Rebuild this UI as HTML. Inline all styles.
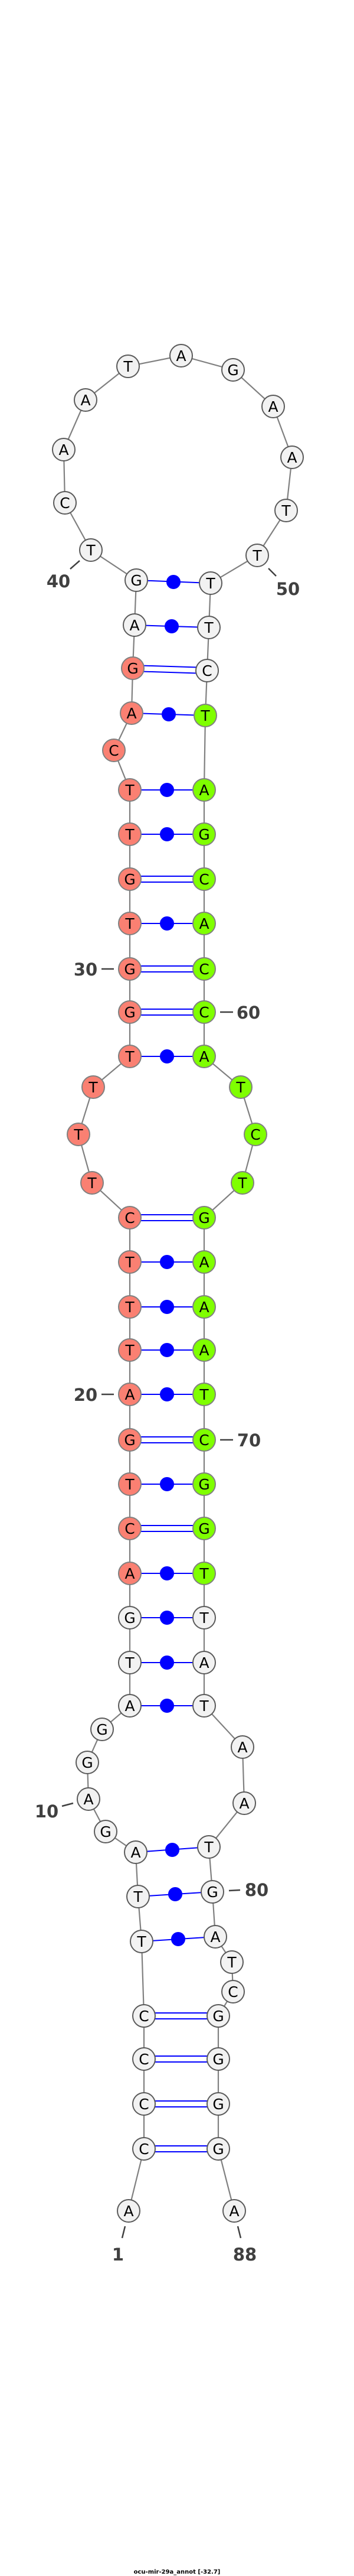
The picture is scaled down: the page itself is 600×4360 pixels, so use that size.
<!DOCTYPE html>
<html><head><meta charset="utf-8"><style>
html,body{margin:0;padding:0;background:#fff;}
svg{display:block;}
.n text{font-family:"DejaVu Sans","Liberation Sans",sans-serif;font-size:25px;text-anchor:middle;fill:#000;}
.lb{font-family:"DejaVu Sans","Liberation Sans",sans-serif;font-size:29px;font-weight:bold;fill:#404040;text-anchor:middle;}
</style></head><body>
<svg width="600" height="4360" viewBox="0 0 600 4360" xmlns="http://www.w3.org/2000/svg">
<polyline fill="none" stroke="#808080" stroke-width="2.2" points="218,3742 244,3637 244,3561 244,3485 244,3412 240,3286 234,3210 230,3135 179,3100 150,3045 148,2983 173,2927 220,2887 220,2814 220,2738 220,2663 220,2587 220,2512 220,2437 220,2360 220,2285 220,2212 220,2136 220,2061 156,2002 133,1920 158,1840 220,1788 220,1713 220,1640 220,1563 220,1488 220,1412 220,1337 193,1270 223,1207 225,1131 228,1058 231,982 154,931 110,851 108,761 145,677 217,620 307,602 395,626 463,688 495,774 485,864 436,940 357,987 354,1062 351,1135 348,1211 346,1337 346,1412 346,1488 346,1563 346,1640 346,1713 346,1788 408,1840 433,1920 411,2002 346,2061 346,2136 346,2212 346,2285 346,2360 346,2437 346,2512 346,2587 346,2663 346,2738 346,2814 346,2887 411,2957 414,3052 354,3126 360,3202 365,3278 393,3321 395,3371 370,3412 370,3485 370,3561 370,3637 397,3742"/>
<g stroke="#0000ff" stroke-width="2" fill="#0000ff">
<!-- single bonds with dots -->
<line x1="240" y1="3286" x2="365" y2="3278"/><circle cx="302" cy="3282" r="11"/>
<line x1="234" y1="3210" x2="360" y2="3202"/><circle cx="297" cy="3206" r="11"/>
<line x1="230" y1="3135" x2="354" y2="3126"/><circle cx="292" cy="3131" r="11"/>
<line x1="220" y1="2887" x2="346" y2="2887"/><circle cx="283" cy="2887" r="11"/>
<line x1="220" y1="2814" x2="346" y2="2814"/><circle cx="283" cy="2814" r="11"/>
<line x1="220" y1="2738" x2="346" y2="2738"/><circle cx="283" cy="2738" r="11"/>
<line x1="220" y1="2663" x2="346" y2="2663"/><circle cx="283" cy="2663" r="11"/>
<line x1="220" y1="2512" x2="346" y2="2512"/><circle cx="283" cy="2512" r="11"/>
<line x1="220" y1="2360" x2="346" y2="2360"/><circle cx="283" cy="2360" r="11"/>
<line x1="220" y1="2285" x2="346" y2="2285"/><circle cx="283" cy="2285" r="11"/>
<line x1="220" y1="2212" x2="346" y2="2212"/><circle cx="283" cy="2212" r="11"/>
<line x1="220" y1="2136" x2="346" y2="2136"/><circle cx="283" cy="2136" r="11"/>
<line x1="220" y1="1788" x2="346" y2="1788"/><circle cx="283" cy="1788" r="11"/>
<line x1="220" y1="1563" x2="346" y2="1563"/><circle cx="283" cy="1563" r="11"/>
<line x1="220" y1="1412" x2="346" y2="1412"/><circle cx="283" cy="1412" r="11"/>
<line x1="220" y1="1337" x2="346" y2="1337"/><circle cx="283" cy="1337" r="11"/>
<line x1="223" y1="1207" x2="348" y2="1211"/><circle cx="286" cy="1209" r="11"/>
<line x1="228" y1="1058" x2="354" y2="1062"/><circle cx="291" cy="1060" r="11"/>
<line x1="231" y1="982" x2="357" y2="987"/><circle cx="294" cy="985" r="11"/>
<!-- double bonds -->
<g fill="none">
<path d="M244,3407H370M244,3417H370"/>
<path d="M244,3480H370M244,3490H370"/>
<path d="M244,3556H370M244,3566H370"/>
<path d="M244,3632H370M244,3642H370"/>
<path d="M220,2582H346M220,2592H346"/>
<path d="M220,2432H346M220,2442H346"/>
<path d="M220,2056H346M220,2066H346"/>
<path d="M220,1708H346M220,1718H346"/>
<path d="M220,1635H346M220,1645H346"/>
<path d="M220,1483H346M220,1493H346"/>
<path d="M225,1126L351,1130M225,1136L351,1140"/>
</g>
</g>
<!-- nodes -->
<g class="n">
<g fill="#f2f2f2" stroke="#5a5a5a" stroke-width="2">
<circle cx="218" cy="3742" r="19"/><circle cx="244" cy="3637" r="19"/><circle cx="244" cy="3561" r="19"/><circle cx="244" cy="3485" r="19"/><circle cx="244" cy="3412" r="19"/><circle cx="240" cy="3286" r="19"/><circle cx="234" cy="3210" r="19"/><circle cx="230" cy="3135" r="19"/><circle cx="179" cy="3100" r="19"/><circle cx="150" cy="3045" r="19"/><circle cx="148" cy="2983" r="19"/><circle cx="173" cy="2927" r="19"/><circle cx="220" cy="2887" r="19"/><circle cx="220" cy="2814" r="19"/><circle cx="220" cy="2738" r="19"/>
<circle cx="228" cy="1058" r="19"/><circle cx="231" cy="982" r="19"/><circle cx="154" cy="931" r="19"/><circle cx="110" cy="851" r="19"/><circle cx="108" cy="761" r="19"/><circle cx="145" cy="677" r="19"/><circle cx="217" cy="620" r="19"/><circle cx="307" cy="602" r="19"/><circle cx="395" cy="626" r="19"/><circle cx="463" cy="688" r="19"/><circle cx="495" cy="774" r="19"/><circle cx="485" cy="864" r="19"/><circle cx="436" cy="940" r="19"/><circle cx="357" cy="987" r="19"/><circle cx="354" cy="1062" r="19"/><circle cx="351" cy="1135" r="19"/>
<circle cx="346" cy="2738" r="19"/><circle cx="346" cy="2814" r="19"/><circle cx="346" cy="2887" r="19"/><circle cx="411" cy="2957" r="19"/><circle cx="414" cy="3052" r="19"/><circle cx="354" cy="3126" r="19"/><circle cx="360" cy="3202" r="19"/><circle cx="365" cy="3278" r="19"/><circle cx="393" cy="3321" r="19"/><circle cx="395" cy="3371" r="19"/><circle cx="370" cy="3412" r="19"/><circle cx="370" cy="3485" r="19"/><circle cx="370" cy="3561" r="19"/><circle cx="370" cy="3637" r="19"/><circle cx="397" cy="3742" r="19"/>
</g>
<g fill="#fa8072" stroke="#808080" stroke-width="2">
<circle cx="220" cy="2663" r="19"/><circle cx="220" cy="2587" r="19"/><circle cx="220" cy="2512" r="19"/><circle cx="220" cy="2437" r="19"/><circle cx="220" cy="2360" r="19"/><circle cx="220" cy="2285" r="19"/><circle cx="220" cy="2212" r="19"/><circle cx="220" cy="2136" r="19"/><circle cx="220" cy="2061" r="19"/><circle cx="156" cy="2002" r="19"/><circle cx="133" cy="1920" r="19"/><circle cx="158" cy="1840" r="19"/><circle cx="220" cy="1788" r="19"/><circle cx="220" cy="1713" r="19"/><circle cx="220" cy="1640" r="19"/><circle cx="220" cy="1563" r="19"/><circle cx="220" cy="1488" r="19"/><circle cx="220" cy="1412" r="19"/><circle cx="220" cy="1337" r="19"/><circle cx="193" cy="1270" r="19"/><circle cx="223" cy="1207" r="19"/><circle cx="225" cy="1131" r="19"/>
</g>
<g fill="#7fff00" stroke="#808080" stroke-width="2">
<circle cx="348" cy="1211" r="19"/><circle cx="346" cy="1337" r="19"/><circle cx="346" cy="1412" r="19"/><circle cx="346" cy="1488" r="19"/><circle cx="346" cy="1563" r="19"/><circle cx="346" cy="1640" r="19"/><circle cx="346" cy="1713" r="19"/><circle cx="346" cy="1788" r="19"/><circle cx="408" cy="1840" r="19"/><circle cx="433" cy="1920" r="19"/><circle cx="411" cy="2002" r="19"/><circle cx="346" cy="2061" r="19"/><circle cx="346" cy="2136" r="19"/><circle cx="346" cy="2212" r="19"/><circle cx="346" cy="2285" r="19"/><circle cx="346" cy="2360" r="19"/><circle cx="346" cy="2437" r="19"/><circle cx="346" cy="2512" r="19"/><circle cx="346" cy="2587" r="19"/><circle cx="346" cy="2663" r="19"/>
</g>
<g transform="translate(0,9)">
<text x="218" y="3742">A</text><text x="244" y="3637">C</text><text x="244" y="3561">C</text><text x="244" y="3485">C</text><text x="244" y="3412">C</text><text x="240" y="3286">T</text><text x="234" y="3210">T</text><text x="230" y="3135">A</text><text x="179" y="3100">G</text><text x="150" y="3045">A</text><text x="148" y="2983">G</text><text x="173" y="2927">G</text><text x="220" y="2887">A</text><text x="220" y="2814">T</text><text x="220" y="2738">G</text>
<text x="220" y="2663">A</text><text x="220" y="2587">C</text><text x="220" y="2512">T</text><text x="220" y="2437">G</text><text x="220" y="2360">A</text><text x="220" y="2285">T</text><text x="220" y="2212">T</text><text x="220" y="2136">T</text><text x="220" y="2061">C</text><text x="156" y="2002">T</text><text x="133" y="1920">T</text><text x="158" y="1840">T</text><text x="220" y="1788">T</text><text x="220" y="1713">G</text><text x="220" y="1640">G</text><text x="220" y="1563">T</text><text x="220" y="1488">G</text><text x="220" y="1412">T</text><text x="220" y="1337">T</text><text x="193" y="1270">C</text><text x="223" y="1207">A</text><text x="225" y="1131">G</text>
<text x="228" y="1058">A</text><text x="231" y="982">G</text><text x="154" y="931">T</text><text x="110" y="851">C</text><text x="108" y="761">A</text><text x="145" y="677">A</text><text x="217" y="620">T</text><text x="307" y="602">A</text><text x="395" y="626">G</text><text x="463" y="688">A</text><text x="495" y="774">A</text><text x="485" y="864">T</text><text x="436" y="940">T</text><text x="357" y="987">T</text><text x="354" y="1062">T</text><text x="351" y="1135">C</text>
<text x="348" y="1211">T</text><text x="346" y="1337">A</text><text x="346" y="1412">G</text><text x="346" y="1488">C</text><text x="346" y="1563">A</text><text x="346" y="1640">C</text><text x="346" y="1713">C</text><text x="346" y="1788">A</text><text x="408" y="1840">T</text><text x="433" y="1920">C</text><text x="411" y="2002">T</text><text x="346" y="2061">G</text><text x="346" y="2136">A</text><text x="346" y="2212">A</text><text x="346" y="2285">A</text><text x="346" y="2360">T</text><text x="346" y="2437">C</text><text x="346" y="2512">G</text><text x="346" y="2587">G</text><text x="346" y="2663">T</text>
<text x="346" y="2738">T</text><text x="346" y="2814">A</text><text x="346" y="2887">T</text><text x="411" y="2957">A</text><text x="414" y="3052">A</text><text x="354" y="3126">T</text><text x="360" y="3202">G</text><text x="365" y="3278">A</text><text x="393" y="3321">T</text><text x="395" y="3371">C</text><text x="370" y="3412">G</text><text x="370" y="3485">G</text><text x="370" y="3561">G</text><text x="370" y="3637">G</text><text x="397" y="3742">A</text>
</g>
</g>
<!-- labels -->
<g stroke="#404040" stroke-width="2.5">
<line x1="135" y1="949" x2="119" y2="963"/>
<line x1="455" y1="962" x2="468" y2="975"/>
<line x1="172" y1="1640" x2="193" y2="1640"/>
<line x1="373" y1="1713" x2="395" y2="1713"/>
<line x1="172" y1="2360" x2="193" y2="2360"/>
<line x1="373" y1="2437" x2="395" y2="2437"/>
<line x1="105" y1="3057" x2="124" y2="3052"/>
<line x1="388" y1="3200" x2="407" y2="3199"/>
<line x1="212" y1="3768" x2="207" y2="3788"/>
<line x1="403" y1="3768" x2="408" y2="3788"/>
</g>
<g class="lb">
<text x="99" y="994">40</text>
<text x="488" y="1007">50</text>
<text x="145" y="1651">30</text>
<text x="421" y="1724">60</text>
<text x="145" y="2371">20</text>
<text x="422" y="2448">70</text>
<text x="79" y="3076">10</text>
<text x="435" y="3209">80</text>
<text x="200" y="3826">1</text>
<text x="415" y="3826">88</text>
</g>
<text x="300" y="4356" font-family="'DejaVu Sans','Liberation Sans',sans-serif" font-size="10" font-weight="bold" text-anchor="middle" fill="#000">ocu-mir-29a_annot [-32.7]</text>
</svg>
</body></html>
